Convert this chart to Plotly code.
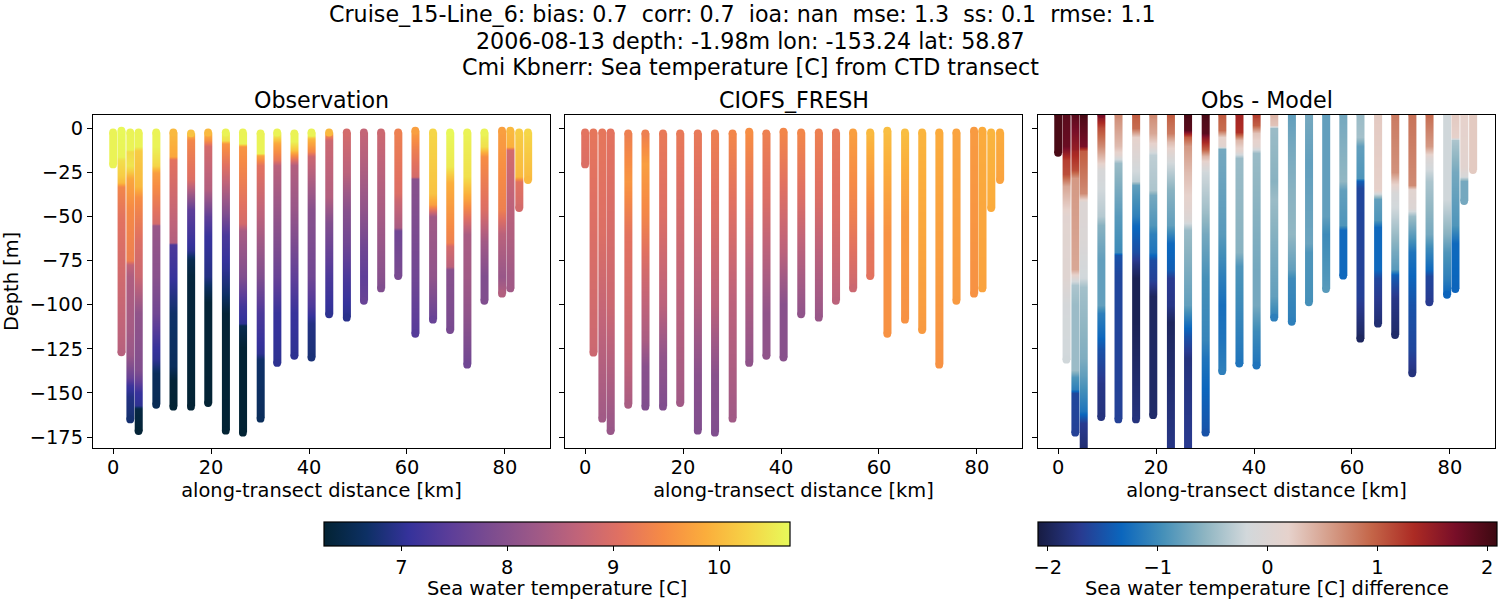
import plotly.graph_objects as go

# along-transect position of each CTD cast [km]
cast_km = [0, 1.7, 3.5, 5.2, 8.8, 12.3, 15.9, 19.4, 23, 26.5, 30.1, 33.5, 37, 40.5,
           44.1, 47.7, 51.2, 54.7, 58.2, 61.7, 65.3, 68.8, 72.3, 75.8, 79.4, 81.1, 82.9, 84.7]

# observed profiles, depth [m] below surface and temperature [C]
obs_depth = [
    [2.5, 20.6],
    [1.5, 16, 18, 27, 31, 33, 50, 86, 127],
    [2.5, 12, 13, 21, 24, 28.5, 46, 75, 77.5, 84, 114, 129, 141, 146, 152, 165],
    [2.5, 10.5, 12.5, 33, 39, 65, 84, 105, 124, 137, 143, 150, 157, 159, 171.6],
    [2.5, 10.5, 21, 25, 54, 55, 84, 105, 124, 131, 139, 156.7],
    [2.5, 16, 18, 65, 66, 84, 105, 135, 143, 157.8],
    [3, 7, 29, 37, 46, 69, 75, 84, 157.8],
    [2.5, 7, 10.5, 35, 50, 61.5, 84, 90, 99, 155.7],
    [2.5, 7, 8.7, 27.5, 46, 60, 80, 93.5, 105, 171.4],
    [2.5, 8.7, 10.6, 54, 58, 84, 101, 110.5, 112, 124, 172.5],
    [3, 14.3, 15.3, 21, 50, 84, 105, 127.5, 131, 164.6],
    [2.5, 5, 8.7, 18, 21, 46, 84, 105, 133],
    [3, 7.7, 12.5, 15, 21, 46, 84, 105, 129],
    [2.5, 4, 6, 13, 16, 46, 84, 101, 110.5, 130],
    [2.5, 4, 7, 39, 54, 84, 105.5],
    [2.5, 25, 46, 65, 84, 107.4],
    [2.5, 20, 46, 67, 84, 97.8],
    [2.5, 46, 84, 90.8],
    [2.5, 37, 41, 56, 58, 83.8],
    [1.5, 12.5, 27.5, 28.5, 84, 116.5],
    [2.5, 37, 43, 46.5, 50, 84, 108.5],
    [2.5, 22, 31, 65, 67, 78.5, 80, 114.4],
    [2.5, 27.5, 39, 50, 60, 84, 105, 134],
    [2.5, 10.5, 16, 46, 65, 84, 97.8],
    [1.5, 46, 60, 84, 93.8],
    [1.5, 10.5, 12.5, 46, 84, 90.8],
    [2.5, 27.5, 30, 45.3],
    [2.5, 29.4],
]
obs_temp = [
    [10.6, 10.6],
    [10.65, 10.6, 10.4, 10.2, 10.0, 9.4, 9.1, 8.85, 8.55],
    [10.6, 10.6, 10.35, 10.45, 10.25, 9.8, 9.45, 9.3, 8.7, 8.45, 8.35, 8.2, 7.6, 7.15, 6.9, 6.75],
    [10.6, 10.6, 10.2, 10.0, 9.5, 9.0, 8.8, 8.1, 8.0, 7.9, 7.6, 7.1, 7.0, 6.4, 6.3],
    [10.6, 10.6, 10.3, 9.7, 8.9, 8.2, 8.0, 7.7, 7.1, 7.0, 6.6, 6.55],
    [10.0, 9.8, 9.1, 8.5, 7.3, 7.1, 6.7, 6.6, 6.3, 6.28],
    [10.1, 9.4, 9.0, 8.3, 7.5, 7.0, 6.5, 6.35, 6.28],
    [10.0, 9.5, 8.9, 8.5, 7.5, 7.1, 6.9, 6.6, 6.3, 6.28],
    [10.6, 10.4, 9.6, 8.8, 8.0, 7.3, 7.0, 6.7, 6.3, 6.28],
    [10.6, 10.6, 9.6, 8.9, 8.4, 7.9, 7.2, 7.0, 6.5, 6.28, 6.28],
    [10.6, 10.6, 9.8, 9.1, 8.6, 7.9, 7.3, 7.0, 6.7, 6.6],
    [10.6, 10.4, 9.8, 9.2, 8.6, 8.2, 7.6, 7.1, 7.0],
    [10.6, 10.6, 10.1, 9.6, 8.5, 8.2, 7.5, 7.1, 7.0],
    [10.6, 10.6, 10.0, 9.4, 8.8, 8.0, 7.7, 7.3, 6.9, 6.8],
    [10.0, 9.4, 8.8, 8.5, 7.9, 7.3, 7.0],
    [8.9, 8.6, 8.0, 7.7, 7.3, 6.95],
    [8.7, 8.5, 8.1, 7.7, 7.5, 7.6],
    [8.8, 8.4, 8.0, 7.9],
    [9.3, 9.0, 8.8, 8.4, 7.7, 7.8],
    [9.7, 9.3, 8.9, 8.0, 7.7, 7.4],
    [10.3, 10.1, 9.7, 9.0, 8.3, 8.1, 7.6],
    [10.65, 10.5, 9.9, 9.3, 8.9, 8.6, 8.0, 7.8],
    [10.6, 10.4, 9.8, 9.1, 8.4, 8.3, 8.1, 7.7],
    [10.6, 10.4, 9.5, 9.0, 8.3, 7.9, 7.9],
    [9.7, 9.3, 8.6, 8.2, 8.5],
    [10.0, 9.9, 8.9, 8.6, 8.3, 8.3],
    [10.2, 10.0, 9.1, 8.9],
    [10.3, 10.0],
]

# model sampled at the same casts
model_depth = [
    [2.5, 20.6],
    [2.5, 127.2],
    [2.5, 60, 164.6],
    [2.5, 100, 171.6],
    [3, 30, 60, 130, 156.7],
    [3, 20, 50, 80, 120, 135, 157.8],
    [3, 50, 100, 130, 157.8],
    [3, 50, 100, 155.7],
    [3, 50, 100, 140, 171.4],
    [3, 50, 100, 140, 172.5],
    [3, 50, 100, 164.6],
    [2, 40, 80, 133],
    [3, 40, 85, 105, 129],
    [2, 30, 70, 100, 130],
    [2.5, 40, 75, 105.5],
    [2.5, 40, 70, 107.4],
    [2.5, 50, 97.8],
    [2.5, 50, 90.8],
    [2.5, 40, 60, 83.8],
    [1.5, 60, 116.5],
    [2.5, 50, 108.5],
    [2.5, 114.4],
    [2.5, 134],
    [2.5, 97.8],
    [1.5, 93.8],
    [1.5, 90.8],
    [2.5, 45.3],
    [2.5, 29.4],
]
model_temp = [
    [9.1, 9.0],
    [9.15, 8.8],
    [9.15, 9.0, 8.3],
    [9.1, 8.8, 8.2],
    [9.3, 9.6, 9.1, 8.7, 8.4],
    [9.3, 9.7, 9.4, 8.9, 8.4, 8.0, 7.9],
    [9.2, 9.0, 8.6, 8.1, 7.9],
    [9.2, 8.9, 8.6, 8.3],
    [9.2, 8.9, 8.5, 8.0, 7.9],
    [9.3, 9.0, 8.6, 8.0, 7.9],
    [9.4, 9.0, 8.6, 8.3],
    [9.5, 9.1, 8.6, 8.1],
    [9.3, 9.0, 8.4, 8.1, 8.1],
    [9.4, 9.1, 8.6, 8.0, 8.0],
    [9.4, 9.0, 8.5, 8.1],
    [9.3, 9.0, 8.6, 8.2],
    [9.2, 9.0, 8.6],
    [9.7, 9.3, 8.8],
    [10.0, 9.5, 9.2, 9.1],
    [10.05, 9.55, 9.55],
    [10.05, 9.65, 9.55],
    [9.95, 9.65],
    [9.85, 9.55],
    [9.75, 9.65],
    [9.65, 9.55],
    [9.85, 9.75],
    [9.95, 9.85],
    [9.85, 9.75],
]

# obs - model, plotted on its own depths; the first reading sits above the axes
diff_depth = [
    [-8, 14],
    [-8, 10, 18, 26, 33, 50, 85, 100, 131.2],
    [-8, 12, 13, 24, 28, 80, 85, 89, 100, 137, 141, 148, 150, 172.5],
    [-8, 10, 13, 37, 42, 65, 85, 90, 130, 140, 155, 160, 167, 185],
    [-8, 0, 10, 20, 24, 35, 50, 55, 75, 100, 105, 118, 125, 145, 163.7],
    [-8, 10, 15, 20, 50, 70, 72, 84, 165],
    [-8, 0, 5, 15, 20, 30, 32, 50, 55, 70, 77, 85, 110, 165],
    [-8, 3, 10, 15, 35, 38, 55, 60, 70, 75, 86, 95, 162.6],
    [-8, 3, 8, 15, 20, 35, 55, 65, 80, 85, 100, 110, 185],
    [-8, 1, 5, 10, 25, 45, 52, 58, 100, 110, 118, 130, 185],
    [-8, 3, 5, 12, 16, 20, 25, 45, 60, 85, 120, 130, 150, 172.5],
    [-8, 1, 5, 10, 12, 60, 84, 100, 120, 137.7],
    [-8, 2, 7, 13, 17, 70, 78, 100, 133.4],
    [-8, -2, 3, 10, 14, 80, 100, 115, 134.5],
    [-8, -2, 0, 30, 40, 75, 95, 107.4],
    [-8, 10, 35, 60, 80, 85, 109.7],
    [-8, 20, 65, 70, 98.7],
    [-8, 50, 60, 91.2],
    [-8, 30, 35, 55, 58, 83.6],
    [-8, 5, 10, 28, 30, 34, 95, 119.3],
    [-8, 35, 36, 40, 52, 56, 80, 85, 90, 110.8],
    [-8, 25, 30, 37, 45, 60, 70, 80, 83, 90, 96, 117.2],
    [-8, 32, 35, 45, 50, 62, 70, 100, 125, 138.9],
    [-8, 10, 17, 30, 60, 68, 80, 84, 98.7],
    [-8, 40, 60, 70, 85, 94.4],
    [-8, 5, 7, 25, 55, 65, 91.2],
    [-8, 22, 27, 30, 41.3],
    [-8, 23.8],
]
diff_value = [
    [2.0, 2.0],
    [1.9, 1.8, 1.2, 1.1, 0.5, 0.1, 0.05, -0.15, -0.2],
    [1.9, 1.5, 1.4, 1.1, 0.6, 0.5, 0.0, -0.4, -0.5, -0.5, -0.9, -1.1, -1.6, -1.65],
    [2.0, 1.7, 1.0, 0.7, 0.0, -0.05, -0.2, -0.45, -0.65, -0.8, -1.1, -1.2, -1.7, -1.9],
    [1.7, 1.1, 0.7, 0.2, -0.1, -0.2, -0.35, -0.6, -0.8, -0.8, -1.1, -1.3, -1.5, -1.75, -1.8],
    [0.7, 0.35, 0.1, -0.5, -0.85, -1.0, -1.5, -1.6, -1.65],
    [1.0, 0.9, 0.2, 0.0, -0.1, -0.3, -0.8, -1.1, -1.3, -1.55, -1.8, -2.0, -2.0, -1.8],
    [0.7, 0.5, 0.1, -0.3, -0.4, -0.7, -0.9, -1.1, -1.2, -1.55, -1.65, -1.95, -1.9],
    [1.0, 0.8, 0.35, 0.0, -0.2, -0.6, -0.8, -1.3, -1.4, -1.7, -1.75, -1.95, -1.75],
    [2.0, 1.9, 1.0, 0.6, 0.35, 0.1, -0.05, -0.5, -0.8, -1.2, -1.5, -1.8, -1.7],
    [2.0, 1.9, 1.6, 1.0, 0.4, 0.1, -0.2, -0.45, -0.7, -0.95, -1.05, -1.2, -1.35, -1.5],
    [1.0, 0.9, 0.2, 0.1, -0.7, -0.85, -1.1, -1.25, -1.2, -1.1],
    [1.4, 1.3, 0.4, 0.1, -0.5, -0.6, -0.9, -1.0, -1.2],
    [1.2, 1.0, 0.3, 0.1, -0.5, -0.7, -0.7, -1.0, -1.2],
    [0.4, 0.3, -0.5, -0.6, -0.5, -0.7, -0.8, -1.1],
    [-0.8, -0.7, -0.6, -0.55, -0.8, -1.0, -1.1],
    [-0.7, -0.8, -0.75, -0.9, -0.95],
    [-0.8, -0.8, -1.0, -0.85],
    [-0.7, -0.55, -0.8, -0.9, -1.3, -1.3],
    [-0.5, -0.45, -0.8, -0.9, -1.4, -1.6, -1.65, -1.95],
    [0.25, 0.2, 0.0, -0.8, -0.9, -1.3, -1.3, -1.6, -1.65, -1.85],
    [0.8, 0.65, 0.3, -0.1, -0.2, -0.5, -0.7, -0.85, -1.4, -1.6, -1.75, -1.9],
    [0.85, 0.7, 0.1, 0.0, -0.5, -0.9, -1.2, -1.5, -1.6, -1.8],
    [0.9, 0.6, 0.0, -0.4, -0.7, -1.0, -1.3, -1.6, -1.7],
    [-0.2, -0.2, -0.6, -0.9, -1.1, -1.35],
    [0.25, 0.2, -0.4, -0.7, -0.9, -1.3, -1.35],
    [0.2, 0.1, -0.1, -0.7, -0.7],
    [0.25, 0.25],
]

panel_titles = ["Observation", "CIOFS_FRESH", "Obs - Model"]
suptitle_lines = [
    "Cruise_15-Line_6: bias: 0.7  corr: 0.7  ioa: nan  mse: 1.3  ss: 0.1  rmse: 1.1",
    "2006-08-13 depth: -1.98m lon: -153.24 lat: 58.87",
    "Cmi Kbnerr: Sea temperature [C] from CTD transect",
]
temp_ticks = [7, 8, 9, 10]
diff_ticks = [-2, -1, 0, 1, 2]

W, H = 1500, 600
FONT = "DejaVu Sans"
TICK_SIZE = 19.4
TITLE_SIZE = 22.2
BAR_KM = 0.39

fig = go.Figure()


def add_casts(depths, values, axis_no, coloraxis):
    xa = "x" if axis_no == 1 else f"x{axis_no}"
    ya = "y" if axis_no == 1 else f"y{axis_no}"
    for km, d, v in zip(cast_km, depths, values):
        # renderer blends between readings; ends padded so the strip stops at the last reading
        y = [-d[0] + 0.02] + [-a for a in d] + [-d[-1] - 0.02]
        z = [v[0]] + list(v) + [v[-1]]
        fig.add_trace(go.Heatmap(
            x=[km - BAR_KM, km + BAR_KM], y=y, z=[[t, t] for t in z],
            zsmooth="best", coloraxis=coloraxis, hoverinfo="skip",
            xaxis=xa, yaxis=ya,
        ))
        fig.add_trace(go.Scatter(
            x=[km, km], y=[-d[0], -d[-1]], mode="markers",
            marker=dict(size=7.8, color=[v[0], v[-1]], coloraxis=coloraxis),
            xaxis=xa, yaxis=ya, showlegend=False, hoverinfo="skip",
        ))


add_casts(obs_depth, obs_temp, 1, "coloraxis")
add_casts(model_depth, model_temp, 2, "coloraxis")
add_casts(diff_depth, diff_value, 3, "coloraxis2")

axis_style = dict(
    showgrid=False, zeroline=False, showline=True, mirror=True,
    linecolor="black", linewidth=1.2, ticks="outside", ticklen=5, tickwidth=1.1,
    tickcolor="black", tickfont=dict(family=FONT, size=TICK_SIZE, color="black"),
)
panel_left = [93, 565, 1038]
panel_right = [550, 1022, 1495]
top, bottom = 115, 448

annotations = []
for i in range(3):
    suffix = "" if i == 0 else str(i + 1)
    fig.layout["xaxis" + suffix] = dict(
        axis_style, domain=[panel_left[i] / W, panel_right[i] / W], range=[-4.1, 89.2],
        tickvals=[0, 20, 40, 60, 80], anchor="y" + suffix, ticklabelstandoff=-3,
        title=dict(text="along-transect distance [km]", standoff=3,
                   font=dict(family=FONT, size=TICK_SIZE, color="black")),
    )
    fig.layout["yaxis" + suffix] = dict(
        axis_style, domain=[1 - bottom / H, 1 - top / H], range=[-181.2, 7.4],
        tickvals=[0, -25, -50, -75, -100, -125, -150, -175], anchor="x" + suffix,
        showticklabels=i == 0,
    )
    annotations.append(dict(
        text=panel_titles[i], x=(panel_left[i] + panel_right[i]) / 2 / W, y=1 - 100 / H,
        xref="paper", yref="paper", showarrow=False, xanchor="center", yanchor="middle",
        font=dict(family=FONT, size=TITLE_SIZE, color="black"),
    ))
fig.layout.yaxis.title = dict(text="Depth [m]", standoff=6,
                              font=dict(family=FONT, size=TICK_SIZE, color="black"))

for line, xpx, ypx in zip(suptitle_lines, [742, 750, 750.5], [14, 41, 67]):
    annotations.append(dict(
        text=line, x=xpx / W, y=1 - ypx / H, xref="paper", yref="paper", showarrow=False,
        xanchor="center", yanchor="middle",
        font=dict(family=FONT, size=TITLE_SIZE, color="black"),
    ))

# colorbar labels sit closer than the colorbar's own title would
for label, xpx in [("Sea water temperature [C]", 556.5), ("Sea water temperature [C] difference", 1266.5)]:
    annotations.append(dict(
        text=label, x=xpx / W, y=1 - 588 / H, xref="paper", yref="paper", showarrow=False,
        xanchor="center", yanchor="middle",
        font=dict(family=FONT, size=TICK_SIZE, color="black"),
    ))


def colorbar(x0, x1, ticks):
    return dict(
        orientation="h", lenmode="pixels", len=x1 - x0, thickness=24,
        x=(x0 + x1) / 2 / W, xanchor="center", y=1 - 522 / H, yanchor="top",
        xpad=0, ypad=0, outlinecolor="black", outlinewidth=1.2,
        tickvals=ticks, ticks="outside", ticklen=5, tickwidth=1.1, tickcolor="black",
        tickfont=dict(family=FONT, size=TICK_SIZE, color="black"),
    )


fig.update_layout(
    width=W, height=H, margin=dict(l=0, r=0, t=0, b=0, autoexpand=False),
    paper_bgcolor="white", plot_bgcolor="white", showlegend=False,
    annotations=annotations,
    coloraxis=dict(colorscale="thermal", cmin=6.27, cmax=10.67, colorbar=colorbar(324, 790, temp_ticks)),
    coloraxis2=dict(colorscale="balance", cmin=-2.09, cmax=2.09, colorbar=colorbar(1038, 1497, diff_ticks)),
)

fig.write_html("out.html", config={"displayModeBar": False},
               post_script="document.body.style.margin='0';document.documentElement.style.overflow='hidden';")
